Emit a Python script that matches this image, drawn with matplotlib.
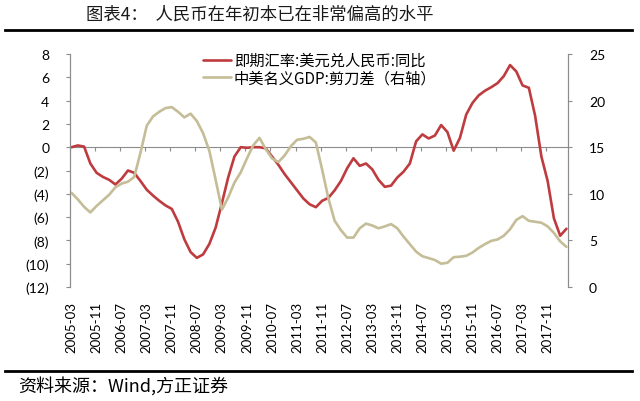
import matplotlib.pyplot as plt
import numpy as np

# monthly category axis, 2005-03 .. 2018-05 (159 months); values read every 2 months
month_pos = np.arange(0, 159, 2)

# 即期汇率:美元兑人民币:同比 (left axis)
fx_yoy = [
    0.0, 0.15, 0.05, -1.4, -2.2, -2.55, -2.8, -3.2, -2.7, -2.0,
    -2.2, -2.9, -3.65, -4.15, -4.6, -5.0, -5.3, -6.4, -7.9, -9.0,
    -9.5, -9.2, -8.3, -6.9, -4.8, -2.6, -0.8, 0.0, -0.05, 0.0,
    0.0, -0.1, -0.8, -1.5, -2.3, -3.0, -3.7, -4.4, -4.9, -5.15,
    -4.6, -4.35, -3.7, -2.9, -1.8, -0.95, -1.6, -1.4, -1.9, -2.8,
    -3.4, -3.3, -2.6, -2.1, -1.4, 0.5, 1.1, 0.75, 1.0, 1.9,
    1.3, -0.3, 0.8, 2.8, 3.8, 4.45, 4.85, 5.15, 5.5, 6.1,
    7.05, 6.5, 5.3, 5.1, 2.7, -0.8, -2.9, -6.1, -7.6, -7.0,
]

# 中美名义GDP:剪刀差 (right axis)
gdp_gap = [
    10.1, 9.4, 8.6, 8.0, 8.7, 9.3, 9.9, 10.7, 11.1, 11.3,
    11.8, 14.4, 17.3, 18.3, 18.8, 19.2, 19.3, 18.8, 18.2, 18.6,
    17.8, 16.5, 14.6, 11.5, 8.3, 9.6, 11.2, 12.3, 13.8, 15.2,
    16.0, 14.8, 13.8, 13.4, 14.1, 15.1, 15.8, 15.9, 16.1, 15.5,
    12.6, 9.5, 7.1, 6.1, 5.3, 5.3, 6.3, 6.8, 6.6, 6.3,
    6.5, 6.75, 6.3, 5.4, 4.6, 3.8, 3.3, 3.1, 2.9, 2.5,
    2.6, 3.2, 3.25, 3.35, 3.7, 4.2, 4.6, 4.95, 5.1, 5.5,
    6.2, 7.2, 7.6, 7.1, 7.0, 6.9, 6.5, 5.8, 4.9, 4.3,
]

x_labels = [
    "2005-03", "2005-11", "2006-07", "2007-03", "2007-11", "2008-07",
    "2009-03", "2009-11", "2010-07", "2011-03", "2011-11", "2012-07",
    "2013-03", "2013-11", "2014-07", "2015-03", "2015-11", "2016-07",
    "2017-03", "2017-11",
]
left_ticks = [-12, -10, -8, -6, -4, -2, 0, 2, 4, 6, 8]
left_labels = ["(12)", "(10)", "(8)", "(6)", "(4)", "(2)", "0", "2", "4", "6", "8"]
right_ticks = [0, 5, 10, 15, 20, 25]

title = "图表4：  人民币在年初本已在非常偏高的水平"
source = "资料来源：Wind,方正证券"
names = ["即期汇率:美元兑人民币:同比", "中美名义GDP:剪刀差（右轴）"]

cjk = ["Noto Sans CJK SC", "DejaVu Sans"]
num_font = "Lato"
red = "#BE3B3F"
tan = "#C4BD97"
axis_grey = "#8C8C8C"

fig = plt.figure(figsize=(6.4, 4.02), dpi=100)
ax = fig.add_axes([70 / 640, 1 - 288 / 402, 498 / 640, 233 / 402])
ax2 = ax.twinx()

l1, = ax.plot(month_pos, fx_yoy, color=red, lw=1.9, solid_capstyle="round")
l2, = ax2.plot(month_pos, gdp_gap, color=tan, lw=1.9, solid_capstyle="round")

ax.set_xlim(-0.5, 158.5)
ax.set_ylim(-12, 8)
ax2.set_ylim(0, 25)

ax.set_xticks(np.arange(0, 153, 8))
ax.set_xticklabels(x_labels, rotation=90, fontfamily=num_font, fontsize=9.5)
ax.tick_params(axis="x", length=0, pad=10)

ax.set_yticks(left_ticks)
ax.set_yticklabels(left_labels, fontfamily=num_font, fontsize=10)
ax.tick_params(axis="y", length=3, width=0.8, color=axis_grey, pad=12)
ax2.set_yticks(right_ticks)
ax2.set_yticklabels([str(t) for t in right_ticks], fontfamily=num_font, fontsize=10)
ax2.tick_params(axis="y", length=3, width=0.8, color=axis_grey, pad=12)

for a in (ax, ax2):
    a.spines["top"].set_visible(False)
    a.spines["bottom"].set_visible(False)
    a.spines["left"].set_color(axis_grey)
    a.spines["right"].set_color(axis_grey)
    a.patch.set_visible(False)

# category axis crossing at zero on the left scale
zero_ax = ax.secondary_xaxis(0.6)
zero_ax.set_xticks(np.arange(-0.5, 159, 8), labels=[""] * 20)
zero_ax.tick_params(axis="x", length=3, width=0.8, color=axis_grey, direction="in",
                    labeltop=False, labelbottom=False)
for s in zero_ax.spines.values():
    s.set_color(axis_grey)
    s.set_linewidth(0.8)

fig.legend([l1, l2], names, loc="upper left", bbox_to_anchor=(197 / 640, 1 - 47 / 402),
           frameon=False, prop={"family": cjk, "size": 11}, handlelength=1.8,
           handletextpad=0.2, labelspacing=0.0, borderaxespad=0)

fig.text(260 / 640, 1 - 15 / 402, title, ha="center", va="center", family=cjk,
         fontsize=12.5, color="#1a1a1a")
fig.add_artist(plt.Line2D([5 / 640, 632 / 640], [1 - 31 / 402, 1 - 31 / 402],
                          color="black", lw=2))
fig.add_artist(plt.Line2D([5 / 640, 632 / 640], [1 - 372 / 402, 1 - 372 / 402],
                          color="black", lw=2))
fig.text(18 / 640, 1 - 386 / 402, source, ha="left", va="center", family=cjk,
         fontsize=13, color="black")

fig.savefig("out.png", dpi=100)
